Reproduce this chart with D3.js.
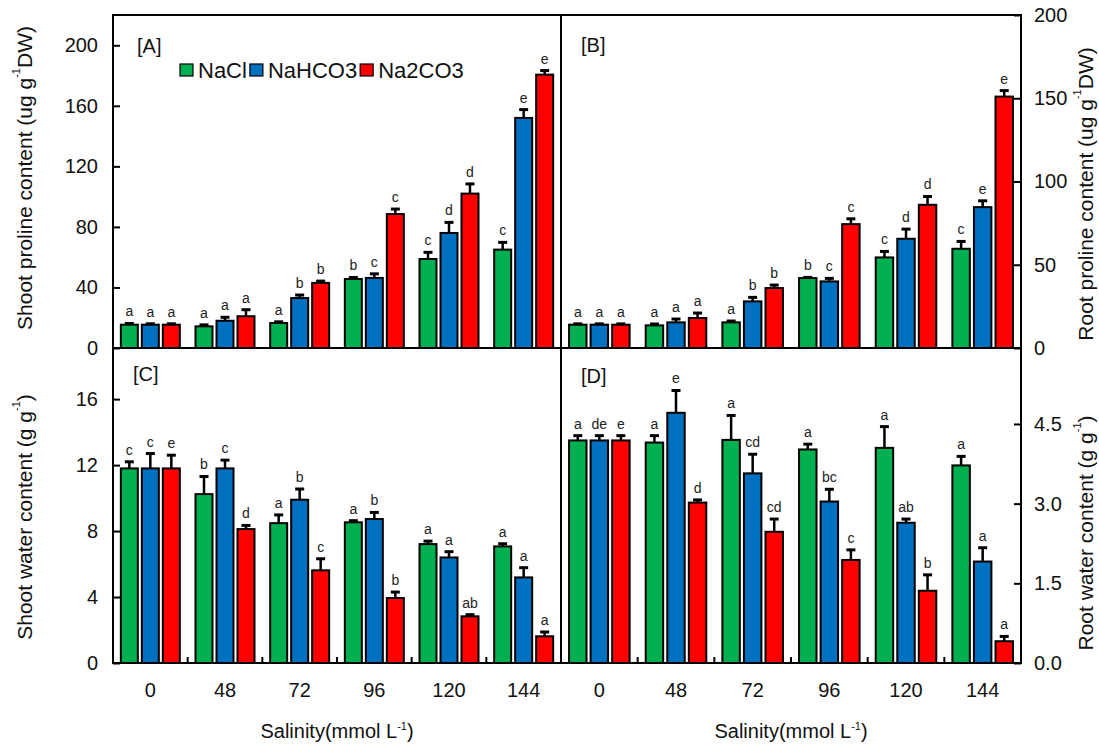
<!DOCTYPE html>
<html>
<head>
<meta charset="utf-8">
<script src="https://cdn.jsdelivr.net/npm/d3@7"></script>
<style>
  html, body { margin: 0; padding: 0; background: #fff; }
  svg { display: block; font-family: "Liberation Sans", Arial, sans-serif; }
</style>
</head>
<body>
<svg id="chart" width="1099" height="746"></svg>
<script>
// Salinity levels (mmol L-1) and salt treatments
const categories = ["0", "48", "72", "96", "120", "144"];
const seriesNames = ["NaCl", "NaHCO3", "Na2CO3"];

// [A] Shoot proline content (ug g-1 DW): rows = NaCl, NaHCO3, Na2CO3
const shootProlineMean = [
  [15.4, 14.3, 16.5, 45.6, 58.8, 65.0],
  [15.4, 18.0, 33.0, 46.3, 76.0, 152.0],
  [15.4, 21.0, 43.0, 88.5, 102.0, 180.6]
];
const shootProlineErr = [
  [0.8, 1.0, 0.8, 1.0, 4.4, 4.8],
  [0.6, 2.3, 2.0, 2.7, 7.0, 5.5],
  [0.6, 4.3, 1.2, 3.3, 6.4, 2.7]
];
const shootProlineLetters = [
  ["a", "a", "a", "b", "c", "c"],
  ["a", "a", "b", "c", "d", "e"],
  ["a", "a", "b", "c", "d", "e"]
];
const shootProlineTicks = [0, 40, 80, 120, 160, 200];

// [B] Root proline content (ug g-1 DW)
const rootProlineMean = [
  [14.0, 13.6, 15.4, 42.0, 54.4, 59.6],
  [14.0, 15.4, 28.0, 40.0, 65.6, 84.6],
  [14.0, 18.0, 36.0, 74.4, 86.0, 151.0]
];
const rootProlineErr = [
  [0.5, 0.8, 0.8, 0.4, 3.6, 4.4],
  [0.5, 2.0, 2.4, 1.8, 5.8, 3.8],
  [0.5, 3.0, 1.8, 3.2, 5.0, 3.6]
];
const rootProlineLetters = [
  ["a", "a", "a", "b", "c", "c"],
  ["a", "a", "b", "c", "d", "e"],
  ["a", "a", "b", "c", "d", "e"]
];
const rootProlineTicks = [0, 50, 100, 150, 200];

// [C] Shoot water content (g g-1)
const shootWaterMean = [
  [11.8, 10.24, 8.48, 8.53, 7.21, 7.07],
  [11.8, 11.8, 9.9, 8.73, 6.4, 5.19],
  [11.8, 8.12, 5.62, 3.94, 2.83, 1.62]
];
const shootWaterErr = [
  [0.4, 1.07, 0.5, 0.1, 0.18, 0.16],
  [0.9, 0.5, 0.65, 0.4, 0.35, 0.59],
  [0.8, 0.22, 0.7, 0.36, 0.1, 0.26]
];
const shootWaterLetters = [
  ["c", "b", "a", "a", "a", "a"],
  ["c", "c", "b", "b", "a", "a"],
  ["e", "d", "c", "b", "ab", "a"]
];
const shootWaterTicks = [0, 4, 8, 12, 16];

// [D] Root water content (g g-1)
const rootWaterMean = [
  [4.19, 4.15, 4.2, 4.02, 4.05, 3.72],
  [4.19, 4.71, 3.57, 3.04, 2.64, 1.91],
  [4.19, 3.02, 2.47, 1.94, 1.36, 0.41]
];
const rootWaterErr = [
  [0.09, 0.13, 0.46, 0.1, 0.4, 0.17],
  [0.09, 0.42, 0.36, 0.23, 0.07, 0.26],
  [0.09, 0.05, 0.24, 0.19, 0.3, 0.09]
];
const rootWaterLetters = [
  ["a", "a", "a", "a", "a", "a"],
  ["de", "e", "cd", "bc", "ab", "a"],
  ["e", "d", "cd", "c", "b", "a"]
];
const rootWaterTicks = [0, 1.5, 3.0, 4.5];

// ---- layout ----
const LEFT = 113, MIDX = 561, RIGHT = 1021;
const TOP = 15, MIDY = 348, BOTTOM = 663;
const FONT = 20;

const svg = d3.select("#chart");
const color = d3.scaleOrdinal().domain(seriesNames).range(["#00B050", "#0070C0", "#FF0000"]);

function drawPanel(p) {
  const g = svg.append("g");
  const x0 = d3.scaleBand().domain(categories).range(p.xr)
    .paddingInner(0.21).paddingOuter(0.105);
  const x1 = d3.scaleBand().domain(seriesNames).range([0, x0.bandwidth()]).paddingInner(0.19);
  const y = d3.scaleLinear().domain(p.domain).range(p.yr);

  const rows = [];
  seriesNames.forEach((s, si) => {
    categories.forEach((c, ci) => {
      rows.push({ s, c, v: p.mean[si][ci], e: p.err[si][ci], t: p.letters[si][ci] });
    });
  });

  const bx = d => x0(d.c) + x1(d.s);
  const bw = x1.bandwidth();

  // bars
  g.selectAll("rect.bar").data(rows).join("rect")
    .attr("class", "bar")
    .attr("x", bx)
    .attr("y", d => y(d.v))
    .attr("width", bw)
    .attr("height", d => y(0) - y(d.v))
    .attr("fill", d => color(d.s))
    .attr("stroke", "#000")
    .attr("stroke-width", 2);

  // upper error bars
  g.selectAll("line.err").data(rows).join("line")
    .attr("class", "err")
    .attr("x1", d => bx(d) + bw / 2).attr("x2", d => bx(d) + bw / 2)
    .attr("y1", d => y(d.v)).attr("y2", d => y(d.v + d.e))
    .attr("stroke", "#000").attr("stroke-width", 2.5);
  g.selectAll("line.cap").data(rows).join("line")
    .attr("class", "cap")
    .attr("x1", d => bx(d) + bw / 2 - 4.5).attr("x2", d => bx(d) + bw / 2 + 4.5)
    .attr("y1", d => y(d.v + d.e)).attr("y2", d => y(d.v + d.e))
    .attr("stroke", "#000").attr("stroke-width", 3);

  // significance letters
  g.selectAll("text.sig").data(rows).join("text")
    .attr("class", "sig")
    .attr("x", d => bx(d) + bw / 2)
    .attr("y", d => y(d.v + d.e) - 7)
    .attr("text-anchor", "middle")
    .attr("font-size", 14)
    .attr("fill", "#222")
    .text(d => d.t);

  // value axis with inward ticks
  const axis = (p.side === "left" ? d3.axisLeft(y) : d3.axisRight(y))
    .tickValues(p.ticks)
    .tickSize(-7)
    .tickPadding(p.side === "left" ? 15 : 13)
    .tickFormat(p.fmt);
  const ax = g.append("g")
    .attr("transform", `translate(${p.side === "left" ? LEFT : RIGHT},0)`)
    .call(axis);
  ax.select(".domain").remove();
  ax.selectAll(".tick line").attr("stroke", "#000").attr("stroke-width", 2);
  ax.selectAll(".tick text").attr("font-size", FONT).attr("fill", "#111")
    .attr("font-family", "Liberation Sans, Arial, sans-serif");

  // category axis on the lower panels
  if (p.bottomAxis) {
    const bax = g.append("g")
      .attr("transform", `translate(0,${BOTTOM})`)
      .call(d3.axisBottom(x0).tickSize(0).tickPadding(20));
    bax.select(".domain").remove();
    bax.selectAll(".tick text").attr("font-size", FONT).attr("fill", "#111")
      .attr("font-family", "Liberation Sans, Arial, sans-serif");
    // small inward ticks between salinity groups
    const bounds = d3.range(1, categories.length).map(i => x0.range()[0] + i * x0.step());
    g.selectAll("line.xt").data(bounds).join("line")
      .attr("class", "xt")
      .attr("x1", d => d).attr("x2", d => d)
      .attr("y1", BOTTOM).attr("y2", BOTTOM - 6)
      .attr("stroke", "#000").attr("stroke-width", 2);

    // x axis title
    const t = svg.append("text")
      .attr("x", (p.xr[0] + p.xr[1]) / 2)
      .attr("y", 738)
      .attr("text-anchor", "middle")
      .attr("font-size", FONT)
      .attr("fill", "#111");
    t.append("tspan").text("Salinity(mmol L");
    t.append("tspan").attr("font-size", 11).attr("dy", -8).text("-1");
    t.append("tspan").attr("dy", 8).text(")");
  }

  // panel tag
  svg.append("text")
    .attr("x", p.tag[1]).attr("y", p.tag[2])
    .attr("font-size", FONT)
    .attr("fill", "#111")
    .text(p.tag[0]);

  // value axis title (rotated)
  const title = svg.append("text")
    .attr("transform", `translate(${p.titlePos[0]},${p.titlePos[1]}) rotate(-90)`)
    .attr("text-anchor", "middle")
    .attr("dominant-baseline", "central")
    .attr("font-size", 21)
    .attr("fill", "#111");
  title.append("tspan").text(p.title[0]);
  title.append("tspan").attr("font-size", 11).attr("dy", -8).text("-1");
  title.append("tspan").attr("dy", 8).text(p.title[1]);
}

drawPanel({
  xr: [LEFT, MIDX], yr: [MIDY, TOP], domain: [0, 220],
  mean: shootProlineMean, err: shootProlineErr, letters: shootProlineLetters,
  ticks: shootProlineTicks, side: "left", fmt: d3.format("d"),
  tag: ["[A]", 137, 53],
  title: ["Shoot proline content (ug g", "DW)"], titlePos: [24, 178]
});
drawPanel({
  xr: [MIDX, RIGHT], yr: [MIDY, TOP], domain: [0, 200],
  mean: rootProlineMean, err: rootProlineErr, letters: rootProlineLetters,
  ticks: rootProlineTicks, side: "right", fmt: d3.format("d"),
  tag: ["[B]", 581, 52],
  title: ["Root proline content (ug g", "DW)"], titlePos: [1085, 194]
});
drawPanel({
  xr: [LEFT, MIDX], yr: [BOTTOM, MIDY], domain: [0, 19.1],
  mean: shootWaterMean, err: shootWaterErr, letters: shootWaterLetters,
  ticks: shootWaterTicks, side: "left", fmt: d3.format("d"),
  tag: ["[C]", 133, 381], bottomAxis: true,
  title: ["Shoot water content (g g", ")"], titlePos: [24, 517]
});
drawPanel({
  xr: [MIDX, RIGHT], yr: [BOTTOM, MIDY], domain: [0, 5.93],
  mean: rootWaterMean, err: rootWaterErr, letters: rootWaterLetters,
  ticks: rootWaterTicks, side: "right", fmt: d3.format(".1f"),
  tag: ["[D]", 581, 383], bottomAxis: true,
  title: ["Root water content (g g", ")"], titlePos: [1085, 533]
});

// legend
const legend = svg.append("g");
let lx = 180;
seriesNames.forEach(s => {
  legend.append("rect")
    .attr("x", lx).attr("y", 64).attr("width", 13).attr("height", 12)
    .attr("fill", color(s)).attr("stroke", "#000").attr("stroke-width", 1.2);
  const t = legend.append("text")
    .attr("x", lx + 18).attr("y", 78)
    .attr("font-size", 22).attr("fill", "#111")
    .text(s);
  lx += 18 + t.node().getComputedTextLength() + 3;
});

// panel frames
const frame = svg.append("g").attr("fill", "none").attr("stroke", "#000").attr("stroke-width", 2);
frame.append("rect").attr("x", LEFT).attr("y", TOP).attr("width", RIGHT - LEFT).attr("height", BOTTOM - TOP);
frame.append("line").attr("x1", MIDX).attr("x2", MIDX).attr("y1", TOP).attr("y2", BOTTOM);
frame.append("line").attr("x1", LEFT).attr("x2", RIGHT).attr("y1", MIDY).attr("y2", MIDY);
</script>
</body>
</html>
